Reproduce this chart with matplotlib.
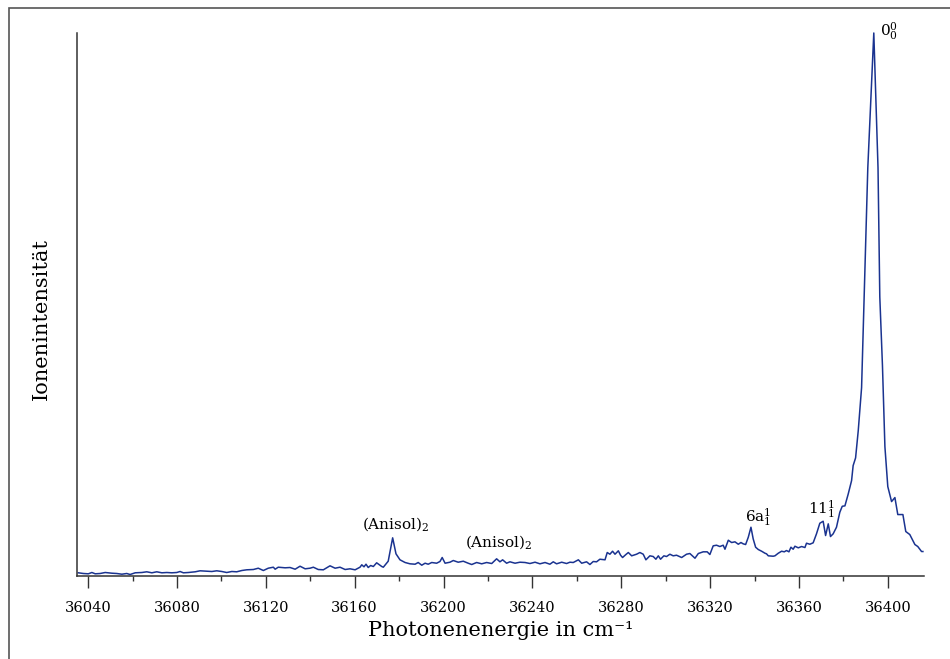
import matplotlib

matplotlib.use("Agg")
import matplotlib.pyplot as plt
from matplotlib.patches import Rectangle


# spectrum (cm^-1, arbitrary ion signal)
wavenumber = [
    36035.6, 36037.9, 36040.1, 36041.7, 36043.2, 36045.4, 36047.7, 36050.7,
    36052.9, 36055.2, 36057.4, 36058.9, 36061.2, 36064.2, 36066.4, 36068.7,
    36070.9, 36073.2, 36075.4, 36077.7, 36079.9, 36081.4, 36082.9, 36085.1,
    36088.2, 36090.4, 36093.4, 36095.7, 36097.9, 36100.2, 36102.4, 36104.7,
    36106.9, 36109.2, 36111.4, 36114.4, 36116.6, 36118.9, 36121.1, 36123.4,
    36124.2, 36125.6, 36128.7, 36130.9, 36133.2, 36135.4, 36137.7, 36139.9,
    36141.4, 36143.6, 36145.9, 36148.9, 36151.2, 36153.4, 36155.7, 36157.9,
    36160.2, 36162.4, 36163.2, 36164.2, 36165.1, 36166.1, 36167.2, 36168.4,
    36169.9, 36172.2, 36172.9, 36175.1, 36177.1, 36178.6, 36180.4, 36182.7,
    36184.9, 36187.2, 36188.6, 36190.2, 36191.7, 36193.1, 36194.7, 36196.9,
    36198.4, 36199.4, 36200.7, 36202.9, 36204.4, 36206.6, 36208.9, 36211.1,
    36212.7, 36214.9, 36217.2, 36219.4, 36221.7, 36223.9, 36225.4, 36226.6,
    36228.4, 36229.9, 36232.2, 36234.4, 36236.7, 36238.9, 36241.2, 36243.4,
    36245.7, 36247.9, 36249.4, 36250.9, 36253.2, 36255.4, 36256.9, 36258.4,
    36260.7, 36262.2, 36264.4, 36265.9, 36267.4, 36268.9, 36270.4, 36272.7,
    36273.7, 36274.9, 36276.1, 36277.2, 36278.7, 36279.7, 36280.6, 36282.1,
    36283.2, 36284.7, 36286.9, 36288.4, 36289.9, 36291.1, 36292.9, 36294.4,
    36295.6, 36296.7, 36297.7, 36299.2, 36300.4, 36301.9, 36303.4, 36304.9,
    36307.2, 36309.4, 36310.9, 36313.2, 36314.7, 36316.9, 36318.7, 36319.9,
    36321.4, 36322.9, 36324.4, 36325.9, 36326.7, 36328.2, 36329.7, 36331.2,
    36332.7, 36333.9, 36334.9, 36336.0, 36337.2, 36338.4, 36339.4, 36340.5,
    36341.7, 36343.2, 36344.7, 36345.4, 36346.2, 36348.4, 36349.2, 36350.7,
    36352.2, 36353.4, 36354.4, 36355.5, 36356.4, 36357.4, 36358.2, 36359.7,
    36361.2, 36362.7, 36363.4, 36364.9, 36366.4, 36367.9, 36369.4, 36370.9,
    36372.0, 36373.2, 36374.2, 36375.4, 36376.9, 36378.4, 36379.5, 36380.7,
    36382.2, 36383.7, 36384.4, 36385.5, 36386.7, 36388.2, 36391.0, 36393.7,
    36394.5, 36395.6, 36396.4, 36397.6, 36398.7, 36400.0, 36401.7, 36403.2,
    36404.5, 36406.8, 36408.1, 36409.9, 36412.2, 36413.5, 36415.2, 36415.8,
]

intensity = [
    2.7, 2.0, 1.7, 3.0, 1.7, 2.0, 3.0, 2.3,
    2.0, 1.3, 2.0, 1.0, 2.7, 3.0, 3.7, 2.7,
    3.7, 2.7, 3.0, 2.7, 3.0, 4.0, 2.7, 3.0,
    3.7, 4.7, 4.3, 4.0, 4.7, 4.0, 3.0, 4.0,
    3.7, 5.0, 5.7, 6.0, 7.3, 5.0, 7.3, 8.3,
    6.3, 8.3, 7.7, 8.0, 6.3, 9.3, 6.7, 7.3,
    8.3, 6.0, 5.7, 9.7, 7.3, 8.3, 6.0, 6.7,
    5.7, 8.3, 10.7, 8.7, 11.3, 8.0, 10.0, 9.0,
    12.7, 9.0, 8.3, 14.3, 37.7, 21.7, 15.7, 13.0,
    11.7, 11.3, 13.0, 10.3, 12.3, 11.3, 13.0, 12.3,
    14.0, 18.0, 12.3, 13.3, 15.0, 13.3, 14.3, 12.3,
    11.0, 13.0, 11.7, 13.0, 12.0, 16.7, 13.7, 15.7,
    12.3, 13.7, 12.3, 13.3, 13.0, 12.0, 13.3, 11.7,
    13.0, 11.3, 13.7, 11.7, 13.3, 12.0, 13.3, 13.0,
    15.7, 12.3, 13.7, 11.0, 14.0, 13.7, 16.3, 15.7,
    23.0, 21.3, 24.3, 21.3, 24.7, 20.3, 18.0, 21.0,
    23.0, 19.7, 21.3, 23.0, 21.3, 15.7, 19.7, 19.0,
    16.3, 19.7, 16.3, 19.7, 19.0, 21.3, 19.7, 20.3,
    18.0, 21.3, 22.0, 17.3, 22.0, 23.7, 23.7, 21.0,
    29.7, 30.3, 29.0, 30.3, 26.3, 35.3, 33.0, 33.7,
    31.3, 33.0, 31.7, 31.0, 38.3, 48.3, 36.7, 28.3,
    26.0, 24.3, 22.3, 21.7, 19.7, 19.3, 19.7, 22.3,
    24.3, 23.7, 25.0, 23.7, 28.3, 26.3, 29.3, 27.7,
    29.0, 28.0, 32.3, 31.3, 32.7, 41.7, 52.3, 54.3,
    40.0, 51.7, 39.0, 41.7, 48.3, 63.3, 69.3, 69.7,
    81.7, 95.0, 110.0, 117.7, 145.0, 188.0, 408.0, 543.0,
    486.0, 408.0, 279.0, 210.0, 129.0, 89.0, 74.0, 78.0,
    61.0, 61.0, 44.0, 41.0, 31.0, 29.0, 24.0, 24.0,
]

x_ticks = [36040, 36080, 36120, 36160, 36200, 36240, 36280, 36320, 36360, 36400]
x_minor = [36060, 36100, 36140, 36180, 36220, 36260, 36300, 36340, 36380]

band_labels = [
    r"(Anisol)$_2$",
    r"(Anisol)$_2$",
    r"6a$_1^1$",
    r"11$_1^1$",
    r"0$_0^0$",
]
band_label_at = [
    (36163.3, 47.0),
    (36209.7, 28.8),
    (36335.7, 53.8),
    (36364.0, 62.0),
    (36396.4, 540.5),
]

plt.rcParams["font.family"] = "DejaVu Serif"
plt.rcParams["mathtext.fontset"] = "dejavuserif"

fig = plt.figure(figsize=(9.5, 6.59), dpi=100)
ax = fig.add_axes([77 / 950, 1 - 575.5 / 659, 847 / 950, 542.5 / 659])

ax.plot(wavenumber, intensity, color="#1a3390", lw=1.1, clip_on=False)

ax.spines["top"].set_visible(False)
ax.spines["right"].set_visible(False)
for side in ("left", "bottom"):
    ax.spines[side].set_color("#333333")
    ax.spines[side].set_linewidth(1.1)

ax.set_yticks([])
ax.set_xticks(x_ticks)
ax.set_xticks(x_minor, minor=True)
ax.tick_params(axis="x", which="major", direction="out", length=8.5,
               width=1.0, color="#333333", labelsize=10.5, pad=9.5)
ax.tick_params(axis="x", which="minor", direction="out", length=3.8,
               width=1.0, color="#333333")

# limits after the ticks so the ticks do not widen the view
ax.set_xlim(36035.0, 36416.3)
ax.set_ylim(0, 543)

ax.set_xlabel("Photonenenergie in cm\u207b\u00b9", fontsize=15, labelpad=5)
ax.set_ylabel("Ionenintensität", fontsize=15)
ax.yaxis.set_label_coords(-0.031, 0.473)

for text, (bx, by) in zip(band_labels, band_label_at):
    ax.text(bx, by, text, fontsize=11, ha="left", va="baseline")

# thin frame round the figure, open at right and bottom edge
fig.patches.append(Rectangle((9 / 950, -0.1), 1.2, 1.1 - 8 / 659,
                             transform=fig.transFigure, fill=False,
                             edgecolor="#555555", lw=1.2))

fig.savefig("out.png", dpi=100)
